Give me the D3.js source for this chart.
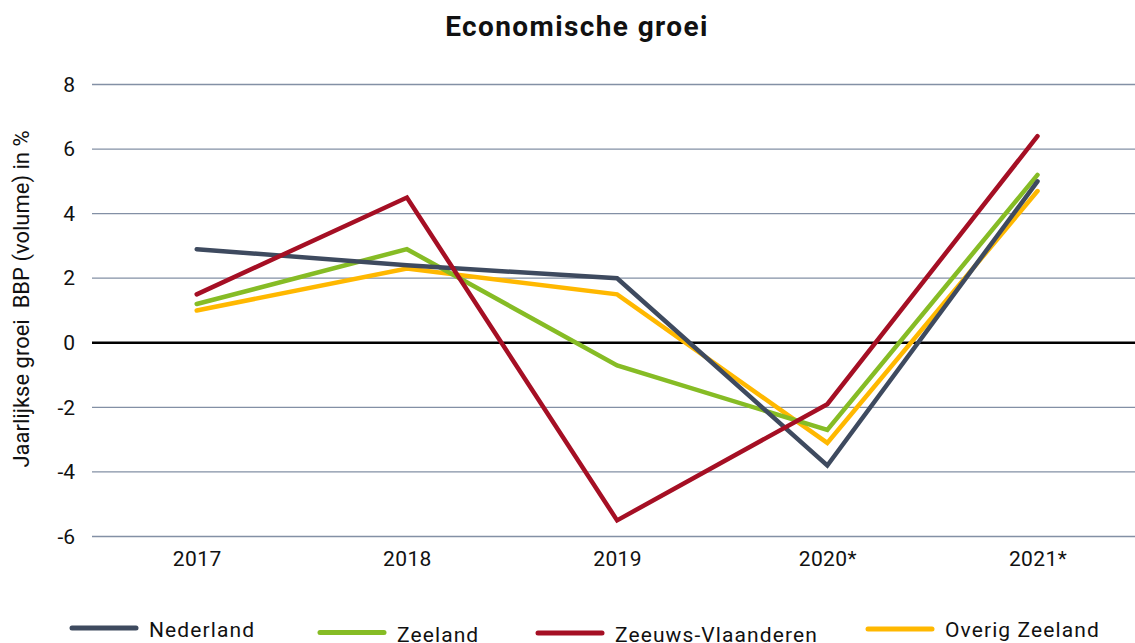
<!DOCTYPE html>
<html>
<head>
<meta charset="utf-8">
<script src="https://cdn.jsdelivr.net/npm/d3@7"></script>
<style>
  body { margin: 0; background: #fff; }
  text { font-family: Roboto, "DejaVu Sans", sans-serif; fill: #111; }
</style>
</head>
<body>
<div id="chart-area"></div>
<script>
var years = ["2017", "2018", "2019", "2020*", "2021*"];
var yTicks = [-6, -4, -2, 0, 2, 4, 6, 8];
var nederland = [2.9, 2.4, 2.0, -3.8, 5.0];
var zeeland = [1.2, 2.9, -0.7, -2.7, 5.2];
var zeeuwsVlaanderen = [1.5, 4.5, -5.5, -1.9, 6.4];
var overigZeeland = [1.0, 2.3, 1.5, -3.1, 4.7];

var series = [
  { name: "Nederland", values: nederland, color: "#3e4a5f" },
  { name: "Zeeland", values: zeeland, color: "#86bc25" },
  { name: "Zeeuws-Vlaanderen", values: zeeuwsVlaanderen, color: "#a50f24" },
  { name: "Overig Zeeland", values: overigZeeland, color: "#ffb800" }
];
// yellow drawn first so the others sit on top of it
var drawOrder = [series[3], series[1], series[0], series[2]];

var svg = d3.select("#chart-area")
  .append("svg")
  .attr("width", 1135)
  .attr("height", 643);

var x = d3.scalePoint()
  .domain(years)
  .range([91.6, 1142.6])
  .padding(0.5);

var y = d3.scaleLinear()
  .domain([-6, 8])
  .range([536.5, 84.5]);

// title
svg.append("text")
  .attr("x", 577)
  .attr("y", 36)
  .attr("text-anchor", "middle")
  .attr("font-size", "28px")
  .attr("font-weight", "bold")
  .attr("letter-spacing", "1.4px")
  .text("Economische groei");

// gridlines
svg.append("g")
  .selectAll("line")
  .data(yTicks)
  .enter()
  .append("line")
  .attr("x1", 92)
  .attr("x2", 1135)
  .attr("y1", d => y(d))
  .attr("y2", d => y(d))
  .attr("stroke", d => d === 0 ? "#000" : "#8390a5")
  .attr("stroke-width", d => d === 0 ? 2.5 : 1.3);

// y axis labels
var yAxisCall = d3.axisLeft(y)
  .tickValues(yTicks)
  .tickFormat(d => String(d))
  .tickSize(0)
  .tickPadding(0);
svg.append("g")
  .attr("class", "y axis")
  .attr("transform", "translate(75,0)")
  .call(yAxisCall)
  .call(g => g.select(".domain").remove())
  .selectAll("text")
    .attr("font-size", "21px")
    .attr("font-family", "Roboto, sans-serif")
    .attr("fill", "#111");

// x axis labels
var xAxisCall = d3.axisBottom(x).tickSize(0).tickPadding(0);
svg.append("g")
  .attr("class", "x axis")
  .attr("transform", "translate(0,551)")
  .call(xAxisCall)
  .call(g => g.select(".domain").remove())
  .selectAll("text")
    .attr("font-size", "21px")
    .attr("font-family", "Roboto, sans-serif")
    .attr("letter-spacing", "0.4px")
    .attr("fill", "#111");

// y axis title
svg.append("text")
  .attr("transform", "translate(29,299) rotate(-90)")
  .attr("text-anchor", "middle")
  .attr("font-size", "22px")
  .attr("font-family", "'Liberation Sans', Arial, sans-serif")
  .style("white-space", "pre")
  .text("Jaarlijkse groei  BBP (volume) in %");

// lines
var line = d3.line()
  .x((d, i) => x(years[i]))
  .y(d => y(d));

svg.append("g")
  .selectAll("path")
  .data(drawOrder)
  .enter()
  .append("path")
  .attr("d", d => line(d.values))
  .attr("fill", "none")
  .attr("stroke", d => d.color)
  .attr("stroke-width", 4.5)
  .attr("stroke-linejoin", "miter")
  .attr("stroke-linecap", "round");

// legend
var legendPos = [
  { x: 72, y: 628, ty: 9 },
  { x: 320, y: 632.5, ty: 9.5 },
  { x: 538, y: 633, ty: 9 },
  { x: 868, y: 629, ty: 8 }
];
var legend = svg.append("g")
  .selectAll("g")
  .data(series)
  .enter()
  .append("g")
  .attr("transform", (d, i) => "translate(" + legendPos[i].x + "," + legendPos[i].y + ")");

legend.append("line")
  .attr("x1", 0)
  .attr("x2", 64)
  .attr("stroke", d => d.color)
  .attr("stroke-width", 5)
  .attr("stroke-linecap", "round");

legend.append("text")
  .attr("x", 77)
  .attr("y", (d, i) => legendPos[i].ty)
  .attr("font-size", "21px")
  .attr("letter-spacing", "1.1px")
  .text(d => d.name);
</script>
</body>
</html>
